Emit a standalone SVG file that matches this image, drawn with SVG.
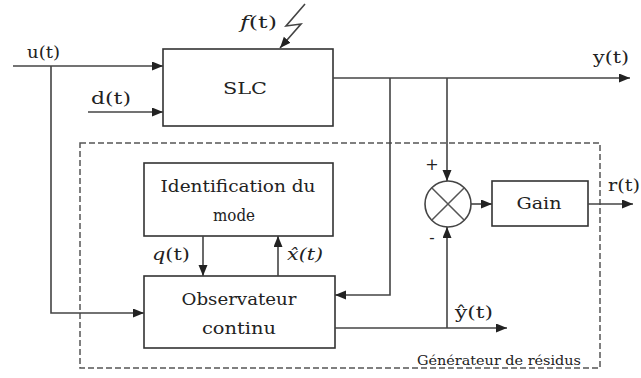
<svg xmlns="http://www.w3.org/2000/svg" width="641" height="378" viewBox="0 0 641 378">
<style>
.box{fill:#fff;stroke:#333;stroke-width:1.6}
.ln{fill:none;stroke:#444;stroke-width:1.6}
text{font-family:"DejaVu Serif","Liberation Serif",serif;fill:#222;font-weight:normal}
.lbl{font-size:17px}
.it{font-style:italic}
</style>
<defs>
<marker id="ah" markerUnits="userSpaceOnUse" markerWidth="12" markerHeight="10" refX="11" refY="4.5" orient="auto">
<path d="M0,0 L11,4.5 L0,9 z" fill="#222"/>
</marker>
</defs>
<rect width="641" height="378" fill="#fff"/>
<g id="generateur">
<rect x="80" y="143" width="520" height="225" fill="none" stroke="#555" stroke-width="1.5" stroke-dasharray="6,3"/>
<text x="499" y="365" font-size="13" text-anchor="middle" textLength="164" lengthAdjust="spacingAndGlyphs">Générateur de résidus</text>
</g>
<g id="slc">
<rect class="box" x="163" y="49" width="170" height="77"/>
<text x="245" y="94" font-size="16" text-anchor="middle" textLength="44" lengthAdjust="spacingAndGlyphs">SLC</text>
</g>
<g id="identification">
<rect class="box" x="144" y="163" width="189" height="73"/>
<text x="238" y="192" font-size="17" text-anchor="middle" textLength="155" lengthAdjust="spacingAndGlyphs">Identification du</text>
<text x="234" y="221" font-size="17" text-anchor="middle" textLength="42" lengthAdjust="spacingAndGlyphs">mode</text>
</g>
<g id="observateur">
<rect class="box" x="144" y="276" width="191" height="72"/>
<text x="239" y="305" font-size="17" text-anchor="middle" textLength="115" lengthAdjust="spacingAndGlyphs">Observateur</text>
<text x="239" y="334" font-size="17" text-anchor="middle" textLength="74" lengthAdjust="spacingAndGlyphs">continu</text>
</g>
<g id="comparateur">
<circle cx="448" cy="204" r="23" fill="#fff" stroke="#444" stroke-width="1.6"/>
<path d="M431.7,187.7 L464.3,220.3 M464.3,187.7 L431.7,220.3" stroke="#555" stroke-width="1.5"/>
<text x="432" y="170" font-size="16" text-anchor="middle">+</text>
<text x="432" y="243" font-size="16" text-anchor="middle">-</text>
</g>
<g id="gain">
<rect class="box" x="492" y="181" width="96" height="45"/>
<text x="539" y="209" font-size="17" text-anchor="middle" textLength="45" lengthAdjust="spacingAndGlyphs">Gain</text>
</g>
<g id="connectors">
<path class="ln" d="M13,66 H163" marker-end="url(#ah)"/>
<path class="ln" d="M51,66 V313 H144" marker-end="url(#ah)"/>
<path class="ln" d="M88,112 H163" marker-end="url(#ah)"/>
<path class="ln" d="M305,4 L286,26 L301,24 L280,48" stroke-width="2.2" marker-end="url(#ah)"/>
<path class="ln" d="M333,78 H630" marker-end="url(#ah)"/>
<path class="ln" d="M390,78 V295 H335" marker-end="url(#ah)"/>
<path class="ln" d="M447,78 V181" marker-end="url(#ah)"/>
<path class="ln" d="M335,328 H507" marker-end="url(#ah)"/>
<path class="ln" d="M447,328 V227" marker-end="url(#ah)"/>
<path class="ln" d="M471,204 H492" marker-end="url(#ah)"/>
<path class="ln" d="M588,204 H633" marker-end="url(#ah)"/>
<path class="ln" d="M203,236 V276" marker-end="url(#ah)"/>
<path class="ln" d="M278,276 V236" marker-end="url(#ah)"/>
</g>
<g id="labels">
<text class="lbl" x="27" y="58" textLength="33" lengthAdjust="spacingAndGlyphs">u(t)</text>
<text class="lbl" x="91" y="104" textLength="40" lengthAdjust="spacingAndGlyphs">d(t)</text>
<text class="lbl" x="240" y="28" textLength="37" lengthAdjust="spacingAndGlyphs"><tspan class="it">f</tspan>(t)</text>
<text class="lbl" x="593" y="63" textLength="36" lengthAdjust="spacingAndGlyphs">y(t)</text>
<text class="lbl" x="608" y="191" textLength="32" lengthAdjust="spacingAndGlyphs">r(t)</text>
<text class="lbl" x="455" y="318" textLength="38" lengthAdjust="spacingAndGlyphs">ŷ(t)</text>
<text class="lbl" x="152" y="260" textLength="38" lengthAdjust="spacingAndGlyphs"><tspan class="it">q</tspan>(t)</text>
<text class="lbl it" x="287" y="260" textLength="36" lengthAdjust="spacingAndGlyphs">x̂(t)</text>
</g>
</svg>
